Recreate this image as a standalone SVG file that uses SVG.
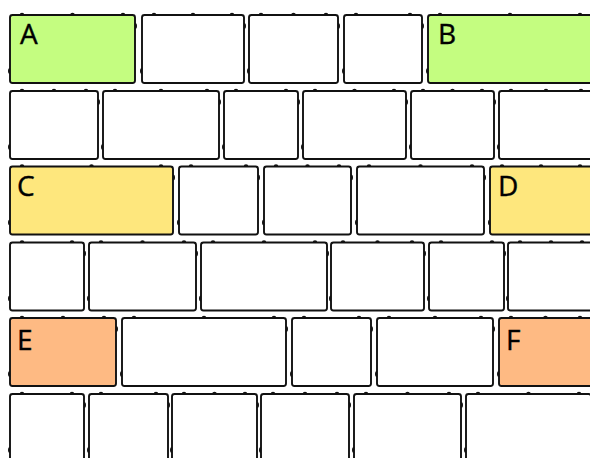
<svg xmlns="http://www.w3.org/2000/svg" xmlns:xlink="http://www.w3.org/1999/xlink" width="590" height="458" viewBox="0 0 590 458">
<style>
.b{fill:#fff;stroke:#111;stroke-width:1.9}
.g{fill:#c4fd80}
.y{fill:#fee77d}
.o{fill:#feba83}
.k{fill:#111}
text{font-family:"Open Sans","Noto Sans","DejaVu Sans",sans-serif;font-size:28px;fill:#000;stroke:#000;stroke-width:0.4}
</style>
<defs>
<path id="tb" class="k" d="M-2.3,0a2.3,2.3 0 0 1 4.6,0z"/>
<path id="rb" class="k" d="M0,-3a2,3 0 0 1 0,6z"/>
<path id="lb" class="k" d="M0,-3a2,3 0 0 0 0,6z"/>
</defs>
<rect width="590" height="458" fill="#fff"/>
<g id="connectors"/>
<!-- Row 1 -->
<g id="A"><rect class="b g" x="10" y="15" width="125" height="68" rx="2.5"/><use href="#tb" x="22" y="15"/><use href="#tb" x="72.5" y="15"/><use href="#tb" x="123" y="15"/><use href="#rb" x="135" y="26"/><use href="#lb" x="10" y="71"/><text x="20" y="44">A</text></g>
<g id="n12"><rect class="b" x="142" y="15" width="102" height="68" rx="2.5"/><use href="#tb" x="154" y="15"/><use href="#tb" x="193" y="15"/><use href="#tb" x="232" y="15"/><use href="#rb" x="244" y="26"/><use href="#lb" x="142" y="71"/></g>
<g id="n13"><rect class="b" x="249" y="15" width="89" height="68" rx="2.5"/><use href="#tb" x="261" y="15"/><use href="#tb" x="293.5" y="15"/><use href="#tb" x="326" y="15"/><use href="#rb" x="338" y="26"/><use href="#lb" x="249" y="71"/></g>
<g id="n14"><rect class="b" x="344" y="15" width="78" height="68" rx="2.5"/><use href="#tb" x="356" y="15"/><use href="#tb" x="410" y="15"/><use href="#rb" x="422" y="26"/><use href="#lb" x="344" y="71"/></g>
<g id="B"><rect class="b g" x="428" y="15" width="164" height="68" rx="2.5"/><use href="#tb" x="440" y="15"/><use href="#tb" x="510" y="15"/><use href="#tb" x="580" y="15"/><use href="#lb" x="428" y="71"/><text x="438" y="44">B</text></g>
<!-- Row 2 -->
<g id="n21"><rect class="b" x="10" y="91" width="88" height="68" rx="2.5"/><use href="#tb" x="22" y="91"/><use href="#tb" x="54" y="91"/><use href="#tb" x="86" y="91"/><use href="#rb" x="98" y="102"/><use href="#lb" x="10" y="147"/></g>
<g id="n22"><rect class="b" x="103" y="91" width="116" height="68" rx="2.5"/><use href="#tb" x="115" y="91"/><use href="#tb" x="161" y="91"/><use href="#tb" x="207" y="91"/><use href="#rb" x="219" y="102"/><use href="#lb" x="103" y="147"/></g>
<g id="n23"><rect class="b" x="224" y="91" width="74" height="68" rx="2.5"/><use href="#tb" x="236" y="91"/><use href="#tb" x="286" y="91"/><use href="#rb" x="298" y="102"/><use href="#lb" x="224" y="147"/></g>
<g id="n24"><rect class="b" x="303" y="91" width="103" height="68" rx="2.5"/><use href="#tb" x="315" y="91"/><use href="#tb" x="354.5" y="91"/><use href="#tb" x="394" y="91"/><use href="#rb" x="406" y="102"/><use href="#lb" x="303" y="147"/></g>
<g id="n25"><rect class="b" x="411" y="91" width="83" height="68" rx="2.5"/><use href="#tb" x="423" y="91"/><use href="#tb" x="452.5" y="91"/><use href="#tb" x="482" y="91"/><use href="#rb" x="494" y="102"/><use href="#lb" x="411" y="147"/></g>
<g id="n26"><rect class="b" x="499" y="91" width="94" height="68" rx="2.5"/><use href="#tb" x="511" y="91"/><use href="#tb" x="546" y="91"/><use href="#tb" x="581" y="91"/><use href="#lb" x="499" y="147"/></g>
<!-- Row 3 -->
<g id="C"><rect class="b y" x="10" y="166.5" width="163" height="68" rx="2.5"/><use href="#tb" x="22" y="166.5"/><use href="#tb" x="91.5" y="166.5"/><use href="#tb" x="161" y="166.5"/><use href="#rb" x="173" y="177.5"/><use href="#lb" x="10" y="222.5"/><text x="17" y="196">C</text></g>
<g id="n32"><rect class="b" x="179" y="166.5" width="79" height="68" rx="2.5"/><use href="#tb" x="191" y="166.5"/><use href="#tb" x="246" y="166.5"/><use href="#rb" x="258" y="177.5"/><use href="#lb" x="179" y="222.5"/></g>
<g id="n33"><rect class="b" x="264" y="166.5" width="87" height="68" rx="2.5"/><use href="#tb" x="276" y="166.5"/><use href="#tb" x="307.5" y="166.5"/><use href="#tb" x="339" y="166.5"/><use href="#rb" x="351" y="177.5"/><use href="#lb" x="264" y="222.5"/></g>
<g id="n34"><rect class="b" x="357" y="166.5" width="127" height="68" rx="2.5"/><use href="#tb" x="369" y="166.5"/><use href="#tb" x="420.5" y="166.5"/><use href="#tb" x="472" y="166.5"/><use href="#rb" x="484" y="177.5"/><use href="#lb" x="357" y="222.5"/></g>
<g id="D"><rect class="b y" x="490" y="166.5" width="102" height="68" rx="2.5"/><use href="#tb" x="502" y="166.5"/><use href="#tb" x="541" y="166.5"/><use href="#tb" x="580" y="166.5"/><use href="#lb" x="490" y="222.5"/><text x="498" y="196">D</text></g>
<!-- Row 4 -->
<g id="n41"><rect class="b" x="10" y="242.5" width="74" height="68" rx="2.5"/><use href="#tb" x="22" y="242.5"/><use href="#tb" x="72" y="242.5"/><use href="#rb" x="84" y="253.5"/><use href="#lb" x="10" y="298.5"/></g>
<g id="n42"><rect class="b" x="89" y="242.5" width="107" height="68" rx="2.5"/><use href="#tb" x="101" y="242.5"/><use href="#tb" x="142.5" y="242.5"/><use href="#tb" x="184" y="242.5"/><use href="#rb" x="196" y="253.5"/><use href="#lb" x="89" y="298.5"/></g>
<g id="n43"><rect class="b" x="201" y="242.5" width="126" height="68" rx="2.5"/><use href="#tb" x="213" y="242.5"/><use href="#tb" x="264" y="242.5"/><use href="#tb" x="315" y="242.5"/><use href="#rb" x="327" y="253.5"/><use href="#lb" x="201" y="298.5"/></g>
<g id="n44"><rect class="b" x="331" y="242.5" width="93" height="68" rx="2.5"/><use href="#tb" x="343" y="242.5"/><use href="#tb" x="377.5" y="242.5"/><use href="#tb" x="412" y="242.5"/><use href="#rb" x="424" y="253.5"/><use href="#lb" x="331" y="298.5"/></g>
<g id="n45"><rect class="b" x="429" y="242.5" width="75" height="68" rx="2.5"/><use href="#tb" x="441" y="242.5"/><use href="#tb" x="492" y="242.5"/><use href="#rb" x="504" y="253.5"/><use href="#lb" x="429" y="298.5"/></g>
<g id="n46"><rect class="b" x="508" y="242.5" width="86" height="68" rx="2.5"/><use href="#tb" x="520" y="242.5"/><use href="#tb" x="551" y="242.5"/><use href="#tb" x="582" y="242.5"/><use href="#lb" x="508" y="298.5"/></g>
<!-- Row 5 -->
<g id="E"><rect class="b o" x="10" y="318" width="106" height="68" rx="2.5"/><use href="#tb" x="22" y="318"/><use href="#tb" x="63" y="318"/><use href="#tb" x="104" y="318"/><use href="#rb" x="116" y="329"/><use href="#lb" x="10" y="374"/><text x="17" y="350">E</text></g>
<g id="n52"><rect class="b" x="122" y="318" width="164" height="68" rx="2.5"/><use href="#tb" x="134" y="318"/><use href="#tb" x="204" y="318"/><use href="#tb" x="274" y="318"/><use href="#rb" x="286" y="329"/><use href="#lb" x="122" y="374"/></g>
<g id="n53"><rect class="b" x="292" y="318" width="79" height="68" rx="2.5"/><use href="#tb" x="304" y="318"/><use href="#tb" x="359" y="318"/><use href="#rb" x="371" y="329"/><use href="#lb" x="292" y="374"/></g>
<g id="n54"><rect class="b" x="377" y="318" width="116" height="68" rx="2.5"/><use href="#tb" x="389" y="318"/><use href="#tb" x="435" y="318"/><use href="#tb" x="481" y="318"/><use href="#rb" x="493" y="329"/><use href="#lb" x="377" y="374"/></g>
<g id="F"><rect class="b o" x="499" y="318" width="93" height="68" rx="2.5"/><use href="#tb" x="511" y="318"/><use href="#tb" x="545.5" y="318"/><use href="#tb" x="580" y="318"/><use href="#lb" x="499" y="374"/><text x="506" y="350">F</text></g>
<!-- Row 6 -->
<g id="n61"><rect class="b" x="10" y="394" width="74" height="68" rx="2.5"/><use href="#tb" x="22" y="394"/><use href="#tb" x="72" y="394"/><use href="#rb" x="84" y="405"/><use href="#lb" x="10" y="450"/></g>
<g id="n62"><rect class="b" x="89" y="394" width="79" height="68" rx="2.5"/><use href="#tb" x="101" y="394"/><use href="#tb" x="156" y="394"/><use href="#rb" x="168" y="405"/><use href="#lb" x="89" y="450"/></g>
<g id="n63"><rect class="b" x="172" y="394" width="85" height="68" rx="2.5"/><use href="#tb" x="184" y="394"/><use href="#tb" x="214.5" y="394"/><use href="#tb" x="245" y="394"/><use href="#rb" x="257" y="405"/><use href="#lb" x="172" y="450"/></g>
<g id="n64"><rect class="b" x="261" y="394" width="88" height="68" rx="2.5"/><use href="#tb" x="273" y="394"/><use href="#tb" x="305" y="394"/><use href="#tb" x="337" y="394"/><use href="#rb" x="349" y="405"/><use href="#lb" x="261" y="450"/></g>
<g id="n65"><rect class="b" x="354" y="394" width="107" height="68" rx="2.5"/><use href="#tb" x="366" y="394"/><use href="#tb" x="407.5" y="394"/><use href="#tb" x="449" y="394"/><use href="#rb" x="461" y="405"/><use href="#lb" x="354" y="450"/></g>
<g id="n66"><rect class="b" x="466" y="394" width="125" height="68" rx="2.5"/><use href="#tb" x="478" y="394"/><use href="#tb" x="528.5" y="394"/><use href="#tb" x="579" y="394"/><use href="#lb" x="466" y="450"/></g>
</svg>
